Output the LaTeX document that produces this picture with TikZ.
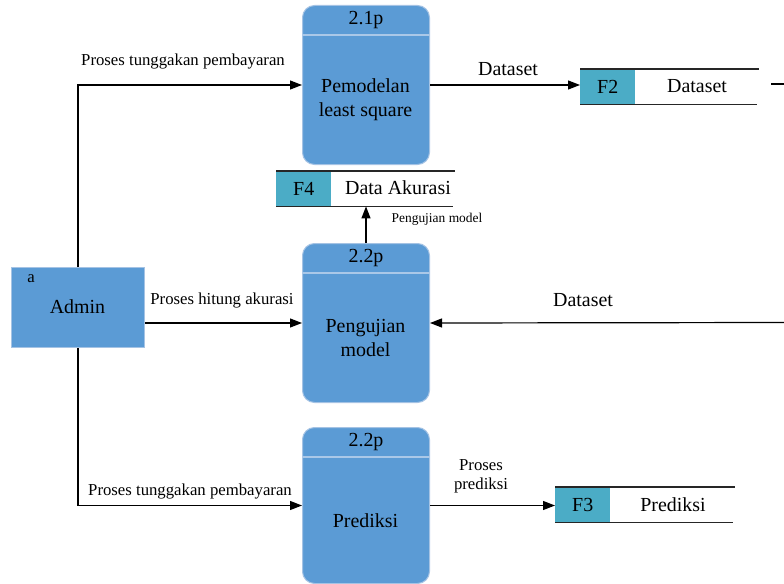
\documentclass[tikz,border=0pt]{standalone}
\usepackage{fontspec}
\setmainfont{LiberationSerif}[Extension=.ttf, UprightFont=*-Regular, BoldFont=*-Bold, ItalicFont=*-Italic, BoldItalicFont=*-BoldItalic]
\usetikzlibrary{arrows.meta}

\definecolor{procblue}{RGB}{91,155,213}
\definecolor{procedge}{RGB}{165,195,228}
\definecolor{hdrline}{RGB}{170,200,232}
\definecolor{storeteal}{RGB}{75,172,198}

\tikzset{
  big/.style={font=\fontsize{20}{24}\selectfont},
  mid/.style={font=\fontsize{16.8}{19}\selectfont},
  tiny/.style={font=\fontsize{13.5}{16}\selectfont},
  procbox/.style={draw=procedge, line width=1bp, fill=procblue, rounded corners=12bp,
    minimum width=127bp, minimum height=159bp, inner sep=0pt, anchor=north west},
  hdr/.style={draw=hdrline, line width=1.2bp},
  entity/.style={draw=procedge, line width=1bp, fill=procblue, minimum width=133bp,
    minimum height=80bp, inner sep=0pt, anchor=north west},
  storeid/.style={fill=storeteal, minimum width=55bp, minimum height=35bp,
    inner sep=0pt, anchor=north west, big},
  storeline/.style={draw=black!85, line width=1.2bp},
  flow/.style={draw=black, line width=1.2bp, -{Triangle[length=12bp,width=9bp]}},
  plain/.style={draw=black, line width=1.2bp},
}

\begin{document}
\begin{tikzpicture}[x=1bp, y=-1bp]
  \useasboundingbox (0,0) rectangle (784,584);

  % external entity
  \node[entity] (admin) at (11,267) {};
  \node[mid] (admintag) at (31,279) {a};
  \node[big] (adminname) at (77.5,307) {Admin};

  % processes
  \node[procbox] (p1) at (302,5) {};
  \draw[hdr] ([yshift=-30bp]p1.north west) -- ([yshift=-30bp]p1.north east);
  \node[big] (p1id) at ([yshift=-15bp]p1.north) {2.1p};
  \node[big, align=center] (p1txt) at (365.5,100) {Pemodelan\\least square};

  \node[procbox] (p2) at (302,243) {};
  \draw[hdr] ([yshift=-30bp]p2.north west) -- ([yshift=-30bp]p2.north east);
  \node[big] (p2id) at ([yshift=-15bp]p2.north) {2.2p};
  \node[big, align=center] (p2txt) at (365.5,338) {Pengujian\\model};

  \node[procbox, minimum height=156bp] (p3) at (302,427) {};
  \draw[hdr] ([yshift=-30bp]p3.north west) -- ([yshift=-30bp]p3.north east);
  \node[big] (p3id) at ([yshift=-15bp]p3.north) {2.2p};
  \node[big] (p3txt) at (365.5,521) {Prediksi};

  % data stores
  \node[storeid] (f2id) at (580,69) {F2};
  \draw[storeline] (f2id.north west) -- ++(179,0);
  \draw[storeline] (f2id.south west) -- ++(177,0);
  \node[big] (f2txt) at (697,86) {Dataset};

  \node[storeid] (f4id) at (276,171) {F4};
  \draw[storeline] (f4id.north west) -- ++(179,0);
  \draw[storeline] (f4id.south west) -- ++(177,0);
  \node[big] (f4txt) at (398,188) {Data Akurasi};

  \node[storeid] (f3id) at (555,487) {F3};
  \draw[storeline] (f3id.north west) -- ++(180,0);
  \draw[storeline] (f3id.south west) -- ++(178,0);
  \node[big] (f3txt) at (673,505) {Prediksi};

  % flows from the admin
  \draw[flow] (admin.north) |- (p1.west);
  \draw[flow] (admin.east |- p2.west) -- (p2.west);
  \draw[flow] (admin.south) |- (p3.west);
  \node[mid] (l1) at (183,62) {Proses tunggakan pembayaran};
  \node[mid] (l2) at (222,300) {Proses hitung akurasi};
  \node[mid] (l3) at (190,491) {Proses tunggakan pembayaran};

  % flows between processes and stores
  \draw[flow] (p1.east) -- (p1.east -| f2id.west);
  \node[big] (l4) at (508,69) {Dataset};

  \coordinate (dsoutA) at (771,84);
  \coordinate (dsoutB) at (784,84);
  \draw[plain] (dsoutA) -- (dsoutB);

  \coordinate (dsin) at (784,322.5);
  \draw[flow] (dsin) -- (p2.east);
  \node[big] (l5) at (583,300) {Dataset};

  \draw[flow] (p2.north) -- (p2.north |- f4id.south);
  \node[tiny] (l6) at (437,219) {Pengujian model};

  \draw[flow] (p3.east) -- (p3.east -| f3id.west);
  \node[mid, align=center] (l7) at (481,476) {Proses\\prediksi};
\end{tikzpicture}
\end{document}
